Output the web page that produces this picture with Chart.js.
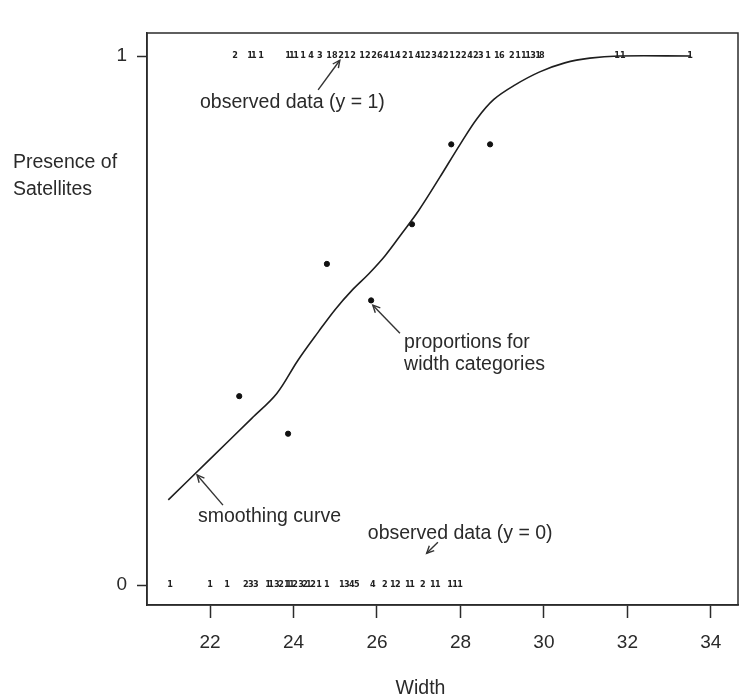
<!DOCTYPE html>
<html>
<head>
<meta charset="utf-8">
<script src="https://cdn.jsdelivr.net/npm/chart.js"></script>
<style>
  body { margin: 0; background: #fff; }
  canvas { display: block; }
</style>
</head>
<body>
<canvas id="crabChart" width="754" height="697"></canvas>
<script>
// proportions for width categories
const catWidths = [22.7, 23.87, 24.8, 25.86, 26.84, 27.78, 28.71];
const catProps = [0.357, 0.286, 0.607, 0.538, 0.682, 0.833, 0.833];

// smoothing curve
const curveWidths = [21.0, 22.0, 23.0, 23.6, 24.1, 24.6, 25.0, 25.4, 25.8, 26.2, 26.6, 27.0, 27.5, 28.0, 28.4, 28.8, 29.3, 29.9, 30.5, 31.1, 31.8, 33.5];
const curveValues = [0.161, 0.238, 0.315, 0.362, 0.424, 0.479, 0.521, 0.557, 0.588, 0.623, 0.665, 0.708, 0.770, 0.834, 0.882, 0.918, 0.945, 0.970, 0.987, 0.996, 1.0, 1.0];

// observed data (y = 1): counts at each width
const topWidths = [22.6, 22.96, 23.05, 23.22, 23.87, 23.96, 24.06, 24.23, 24.42, 24.63, 24.85, 24.99, 25.14, 25.28, 25.43, 25.64, 25.78, 25.93, 26.07, 26.22, 26.36, 26.5, 26.67, 26.81, 26.98, 27.1, 27.22, 27.37, 27.51, 27.65, 27.8, 27.94, 28.08, 28.23, 28.37, 28.49, 28.66, 28.87, 28.99, 29.23, 29.38, 29.52, 29.62, 29.74, 29.86, 29.95, 31.75, 31.89, 33.5];
const topCounts = ["2", "1", "1", "1", "1", "1", "1", "1", "4", "3", "1", "8", "2", "1", "2", "1", "2", "2", "6", "4", "1", "4", "2", "1", "4", "1", "2", "3", "4", "2", "1", "2", "2", "4", "2", "3", "1", "1", "6", "2", "1", "1", "1", "3", "1", "8", "1", "1", "1"];

// observed data (y = 0): counts at each width
const bottomWidths = [21.04, 22.0, 22.41, 22.86, 22.98, 23.1, 23.39, 23.46, 23.6, 23.7, 23.84, 23.89, 23.96, 24.04, 24.18, 24.28, 24.37, 24.47, 24.61, 24.8, 25.16, 25.28, 25.4, 25.52, 25.9, 26.19, 26.38, 26.5, 26.74, 26.84, 27.1, 27.34, 27.46, 27.75, 27.87, 27.99];
const bottomCounts = ["1", "1", "1", "2", "3", "3", "1", "1", "3", "2", "1", "1", "1", "2", "3", "2", "1", "2", "1", "1", "1", "3", "4", "5", "4", "2", "1", "2", "1", "1", "2", "1", "1", "1", "1", "1"];

const xTicks = [22, 24, 26, 28, 30, 32, 34];
const yTicks = [0, 1];

const ink = "#2b2b2b";
const textFont = "'Liberation Sans', Arial, sans-serif";

// annotations, placed in data coordinates
const notes = [
  { text: "observed data (y = 1)", w: 21.76, p: 0.911 },
  { text: "proportions for", w: 26.65, p: 0.459 },
  { text: "width categories", w: 26.65, p: 0.416 },
  { text: "smoothing curve", w: 21.71, p: 0.129 },
  { text: "observed data (y = 0)", w: 25.78, p: 0.098 },
];
const arrows = [
  { from: [24.59, 0.936], to: [25.11, 0.992] },
  { from: [26.55, 0.476], to: [25.9, 0.529] },
  { from: [22.31, 0.151], to: [21.69, 0.208] },
  { from: [27.46, 0.081], to: [27.19, 0.06] },
];

function drawArrow(ctx, x1, y1, x2, y2) {
  const ang = Math.atan2(y2 - y1, x2 - x1);
  ctx.beginPath();
  ctx.moveTo(x1, y1);
  ctx.lineTo(x2, y2);
  ctx.stroke();
  ctx.beginPath();
  ctx.moveTo(x2 - 8 * Math.cos(ang - 0.45), y2 - 8 * Math.sin(ang - 0.45));
  ctx.lineTo(x2, y2);
  ctx.lineTo(x2 - 8 * Math.cos(ang + 0.45), y2 - 8 * Math.sin(ang + 0.45));
  ctx.stroke();
}

const extrasPlugin = {
  id: "extras",
  afterDraw(chart) {
    const ctx = chart.ctx;
    const x = chart.scales.x;
    const y = chart.scales.y;
    const area = chart.chartArea;
    ctx.save();

    // frame
    ctx.strokeStyle = ink;
    ctx.lineWidth = 1.5;
    ctx.strokeRect(area.left, area.top, area.right - area.left, area.bottom - area.top);

    // counts along y = 1 and y = 0
    ctx.fillStyle = "#222";
    ctx.font = "bold 9px 'DejaVu Sans Condensed', 'Liberation Sans', sans-serif";
    ctx.textAlign = "center";
    ctx.textBaseline = "middle";
    topWidths.forEach((w, i) => {
      ctx.fillText(topCounts[i], x.getPixelForValue(w), y.getPixelForValue(1));
    });
    bottomWidths.forEach((w, i) => {
      ctx.fillText(bottomCounts[i], x.getPixelForValue(w), y.getPixelForValue(0));
    });

    // annotations
    ctx.fillStyle = "#2a2a2a";
    ctx.font = "19.5px " + textFont;
    ctx.textAlign = "left";
    notes.forEach((n) => {
      ctx.fillText(n.text, x.getPixelForValue(n.w), y.getPixelForValue(n.p));
    });
    ctx.strokeStyle = "#333";
    ctx.lineWidth = 1.4;
    arrows.forEach((a) => {
      drawArrow(
        ctx,
        x.getPixelForValue(a.from[0]), y.getPixelForValue(a.from[1]),
        x.getPixelForValue(a.to[0]), y.getPixelForValue(a.to[1])
      );
    });

    // axis titles
    ctx.fillText("Presence of", 13, 163);
    ctx.fillText("Satellites", 13, 190);
    ctx.textAlign = "center";
    ctx.fillText("Width", (area.left + area.right) / 2 - 22, 689);
    ctx.restore();
  },
};

new Chart(document.getElementById("crabChart"), {
  type: "scatter",
  data: {
    datasets: [
      {
        type: "line",
        label: "smoothing curve",
        data: curveWidths.map((w, i) => ({ x: w, y: curveValues[i] })),
        borderColor: "#1e1e1e",
        borderWidth: 1.6,
        pointRadius: 0,
        tension: 0.35,
        fill: false,
      },
      {
        label: "proportions",
        data: catWidths.map((w, i) => ({ x: w, y: catProps[i] })),
        backgroundColor: "#111",
        borderColor: "#111",
        pointRadius: 2.6,
      },
    ],
  },
  options: {
    responsive: false,
    animation: false,
    devicePixelRatio: 1,
    layout: { padding: { top: 33, right: 16, left: 0, bottom: 0 } },
    plugins: { legend: { display: false }, tooltip: { enabled: false } },
    scales: {
      x: {
        type: "linear",
        min: 20.49,
        max: 34.65,
        afterBuildTicks: (scale) => {
          scale.ticks = xTicks.map((v) => ({ value: v }));
        },
        afterFit: (scale) => {
          scale.height = 92;
        },
        ticks: {
          autoSkip: false,
          maxRotation: 0,
          padding: 13,
          color: "#2a2a2a",
          font: { family: textFont, size: 19 },
        },
        grid: {
          drawOnChartArea: false,
          tickLength: 13,
          tickWidth: 1.5,
          tickColor: ink,
        },
        border: { color: ink, width: 1.5 },
      },
      y: {
        type: "linear",
        min: -0.0378,
        max: 1.0435,
        afterBuildTicks: (scale) => {
          scale.ticks = yTicks.map((v) => ({ value: v }));
        },
        afterFit: (scale) => {
          scale.width = 147;
        },
        ticks: {
          padding: 10,
          color: "#2a2a2a",
          font: { family: textFont, size: 19 },
        },
        grid: {
          drawOnChartArea: false,
          tickLength: 10,
          tickWidth: 1.5,
          tickColor: ink,
        },
        border: { color: ink, width: 1.5 },
      },
    },
  },
  plugins: [extrasPlugin],
});
</script>
</body>
</html>
